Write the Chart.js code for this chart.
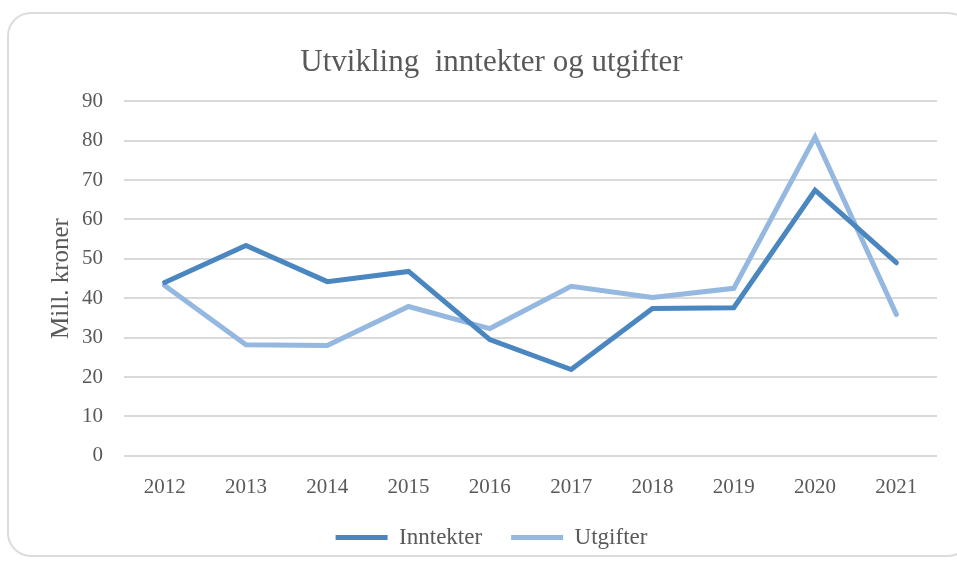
<!DOCTYPE html>
<html>
<head>
<meta charset="utf-8">
<script src="https://cdn.jsdelivr.net/npm/chart.js@4.4.1/dist/chart.umd.min.js"></script>
<style>
  html, body { margin: 0; padding: 0; background: #fff; }
  #frame {
    position: absolute; left: 7px; top: 12px; width: 965px; height: 545px;
    border: 2px solid #dcdcdc; border-radius: 24px; box-sizing: border-box;
  }
  #wrap { position: absolute; left: 0; top: 0; width: 957px; height: 562px; }
</style>
</head>
<body>
<div id="frame"></div>
<div id="wrap"><canvas id="lineChart" width="957" height="562"></canvas></div>
<script>
var years = ["2012", "2013", "2014", "2015", "2016", "2017", "2018", "2019", "2020", "2021"];
var inntekter = [44.0, 53.4, 44.2, 46.8, 29.5, 21.9, 37.4, 37.6, 67.4, 49.0];
var utgifter = [43.2, 28.2, 28.0, 37.9, 32.3, 43.0, 40.2, 42.5, 80.9, 35.9];

var serif = "'Liberation Serif', 'Times New Roman', serif";
var grey = "#595959";

var ctx = document.getElementById("lineChart").getContext("2d");

var MyChart = new Chart(ctx, {
  type: "line",
  data: {
    labels: years,
    datasets: [
      {
        label: "Inntekter",
        data: inntekter,
        borderColor: "#4A86BF",
        backgroundColor: "#4A86BF",
        borderWidth: 5,
        pointRadius: 0,
        borderCapStyle: "round",
        tension: 0,
      },
      {
        label: "Utgifter",
        data: utgifter,
        borderColor: "#95B8E0",
        backgroundColor: "#95B8E0",
        borderWidth: 5,
        pointRadius: 0,
        borderCapStyle: "round",
        tension: 0,
      },
    ],
  },
  options: {
    responsive: false,
    animation: false,
    layout: { padding: { left: 46, right: 20, top: 44, bottom: 3 } },
    plugins: {
      title: {
        display: true,
        text: "Utvikling  inntekter og utgifter",
        color: grey,
        font: { family: serif, size: 31, weight: "normal" },
        padding: { top: 0, bottom: 20 },
      },
      legend: {
        position: "bottom",
        labels: {
          color: grey,
          font: { family: serif, size: 23 },
          usePointStyle: true,
          pointStyle: "line",
          pointStyleWidth: 52,
          boxHeight: 10,
          padding: 6,
          generateLabels: function (chart) {
            var items = Chart.defaults.plugins.legend.labels.generateLabels(chart);
            // widen the gap between the two legend entries
            items[0].text = items[0].text + "\u2003";
            return items;
          },
        },
      },
      tooltip: { enabled: false },
    },
    scales: {
      x: {
        offset: true,
        grid: { display: false },
        border: { display: false },
        ticks: { color: grey, font: { family: serif, size: 21 }, padding: 11 },
        afterFit: function (scale) {
          scale.height = scale.height + 9;
        },
      },
      y: {
        min: 0,
        max: 90,
        ticks: { stepSize: 10, color: grey, font: { family: serif, size: 21 }, padding: 21 },
        grid: { color: "#d9d9d9", lineWidth: 2, drawTicks: false },
        border: { display: false },
        title: {
          display: true,
          text: "Mill. kroner",
          color: grey,
          font: { family: serif, size: 25 },
          padding: { top: 0, bottom: -15 },
        },
      },
    },
  },
});
</script>
</body>
</html>
